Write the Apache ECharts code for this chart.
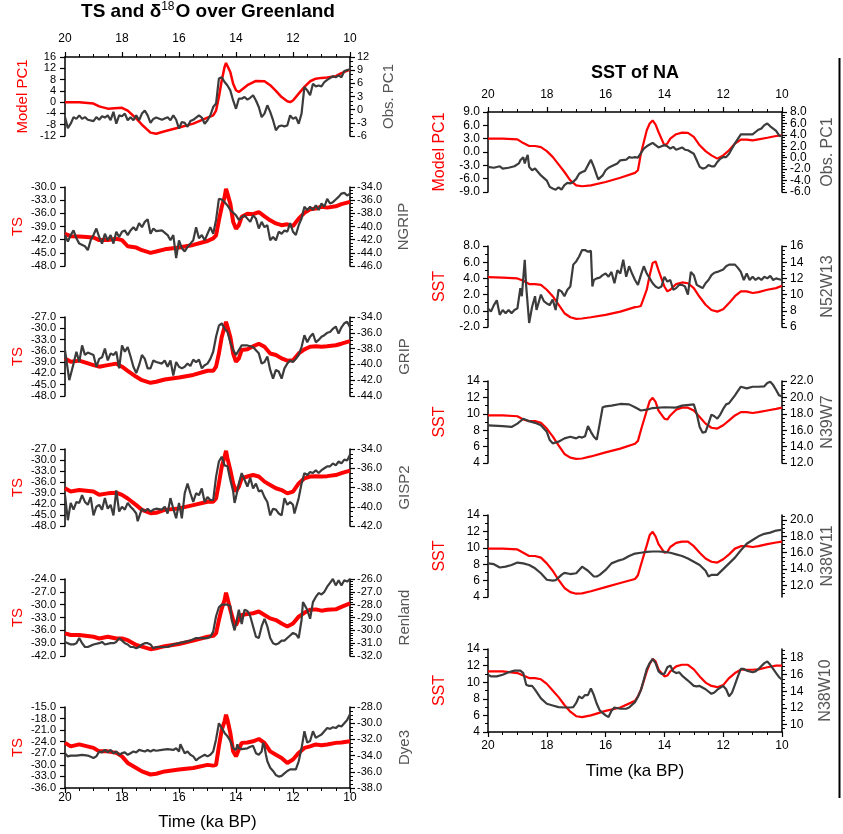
<!DOCTYPE html>
<html><head><meta charset="utf-8">
<script src="https://cdn.jsdelivr.net/npm/echarts@6/dist/echarts.min.js"></script>
<style>html,body{margin:0;padding:0;background:#fff}#c{width:843px;height:834px}</style>
</head><body><div id="c"></div>
<script>
// ---------------- DATA (time in ka BP) ----------------
// Left column: TS (model, red) vs delta18O / PC1 (obs, dark grey)
const LT = [20,19.8,19.5,19,18.8,18.5,18.2,18,17.8,17.5,17.3,17,16.8,16.5,16,15.5,15,14.8,14.7,14.6,14.5,14.4,14.35,14.3,14.2,14.1,14,13.9,13.8,13.6,13.4,13.2,13,12.8,12.6,12.4,12.2,12,11.8,11.6,11.4,11.2,11,10.8,10.5,10.3,10];

const L1_modelT = [20,19.5,19,18.8,18.5,18,17.8,17.5,17.3,17,16.8,16.5,16,15.5,15,14.8,14.7,14.6,14.5,14.4,14.35,14.3,14.2,14.1,14,13.9,13.8,13.6,13.3,13,12.8,12.6,12.4,12.2,12.1,12,11.8,11.6,11.4,11.2,11,10.8,10.5,10.3,10];
const L1_model = [0,0,-0.5,-1.5,-2.3,-2,-3,-5.8,-8,-10.8,-11.2,-10.3,-9,-7.6,-5.5,-4.7,-3,1.8,7.7,12.5,13.9,13.4,10.7,6.5,4.2,3.6,4.4,6,7.5,7.4,6,4,1.8,0.3,0,0.6,3,5.4,7.4,8.3,8.6,8.7,9.2,10.3,11.5];
const L1_obsT = [20,19.9,19.8,19.7,19.6,19.5,19.4,19.3,19.2,19.0,18.9,18.8,18.7,18.6,18.5,18.4,18.3,18.2,18.1,18.0,17.9,17.8,17.7,17.6,17.5,17.4,17.3,17.2,17.1,17.0,16.9,16.8,16.6,16.4,16.3,16.2,16.1,16.0,15.9,15.8,15.7,15.6,15.5,15.3,15.2,15.1,15.0,14.9,14.8,14.7,14.6,14.5,14.4,14.3,14.2,14.1,14.0,13.9,13.8,13.7,13.6,13.5,13.4,13.3,13.2,13.1,13.0,12.9,12.8,12.7,12.6,12.5,12.4,12.3,12.2,12.1,12.0,11.9,11.8,11.7,11.6,11.5,11.4,11.3,11.2,11.1,11.0,10.9,10.8,10.6,10.5,10.4,10.3,10.2,10.1,10.0];
const L1_obs = [-1.7,-4.2,-3.2,-1.7,-2.1,-1.3,-2.1,-1.7,-2.3,-2.6,-1.7,-2.3,-1.5,-1.8,-1.3,-2.4,-0.5,-3.2,-1.3,-1.5,-0.9,-2.4,-1.7,-2.4,-1.3,-2.4,-0.9,-0.2,-1.3,-3.0,-2.1,-1.8,-2.3,-1.7,-2.4,-1.3,-2.3,-4.3,-2.8,-3.0,-3.9,-2.6,-2.3,-1.3,-1.8,-3.2,-2.4,-1.3,0.6,1.4,7.1,7.4,6.3,5.5,4.4,2.1,0.2,2.5,2.5,2.9,2.3,2.7,3.3,2.1,0.6,-1.7,-0.9,1.0,-0.5,-2.4,-4.7,-3.8,-3.6,-3.8,-3.6,-1.3,-2.1,-1.7,-3.2,-0.9,5.2,4.4,3.3,5.9,5.3,5.5,5.3,6.3,6.8,7.6,7.4,7.8,7.4,8.8,9.0,9.2];

const L2_model = [-40.7,-41.2,-41.3,-41.5,-42.1,-42.1,-41.8,-42.1,-43.5,-43.8,-44.4,-45.0,-44.7,-44.2,-43.8,-43.2,-42.3,-41.7,-41.0,-37.6,-34.5,-32.3,-30.4,-31.5,-33.8,-37.9,-39.5,-38.7,-36.8,-36.1,-36.2,-35.7,-36.7,-37.6,-38.3,-38.7,-38.5,-38.9,-37.2,-35.9,-35.1,-34.9,-34.5,-34.7,-34.4,-33.9,-33.4];
const L2_obsT = [20,19.9,19.8,19.7,19.6,19.5,19.3,19.2,19.1,19.0,18.9,18.8,18.7,18.6,18.5,18.4,18.3,18.2,18.1,18.0,17.9,17.8,17.7,17.6,17.5,17.4,17.3,17.2,17.1,17.0,16.9,16.8,16.6,16.4,16.3,16.2,16.1,16.0,15.9,15.8,15.7,15.6,15.5,15.4,15.3,15.2,15.1,15.0,14.9,14.8,14.7,14.6,14.5,14.4,14.3,14.2,14.0,13.9,13.8,13.7,13.6,13.5,13.4,13.3,13.2,13.1,13.0,12.9,12.8,12.7,12.6,12.5,12.4,12.3,12.2,12.1,12.0,11.9,11.8,11.7,11.6,11.5,11.4,11.3,11.2,11.1,11.0,10.9,10.8,10.7,10.6,10.5,10.4,10.3,10.2,10.1,10.0];
const L2_obs = [-41.3,-42.3,-41.3,-40.6,-41.8,-42.6,-43.0,-43.6,-42.1,-41.3,-40.3,-41.6,-42.6,-41.1,-42.1,-41.3,-42.6,-40.8,-41.6,-40.8,-40.6,-41.3,-40.6,-40.1,-40.6,-39.5,-40.1,-39.3,-38.9,-41.1,-40.3,-40.7,-40.6,-41.3,-42.1,-41.3,-44.8,-42.1,-43.3,-43.8,-43.1,-42.6,-42.1,-40.1,-41.8,-41.3,-42.1,-41.1,-40.1,-41.1,-39.0,-35.8,-35.9,-36.3,-36.8,-37.5,-38.3,-39.0,-38.6,-38.3,-38.8,-39.3,-38.3,-38.8,-40.3,-39.3,-40.1,-39.8,-42.1,-41.6,-42.1,-40.8,-41.1,-40.6,-40.8,-39.5,-40.8,-41.3,-39.8,-38.8,-37.0,-37.5,-37.0,-37.5,-36.8,-37.5,-36.5,-37.0,-35.8,-36.5,-36.3,-35.9,-35.5,-35.0,-34.9,-35.3,-35.0];

const L3_model = [-38.0,-38.9,-38.6,-39.8,-40.2,-39.8,-39.4,-40.2,-41.3,-42.9,-43.8,-44.5,-44.2,-43.6,-43.1,-42.4,-41.3,-41.3,-40.2,-36.7,-32.3,-29.6,-28.3,-29.6,-32.3,-36.7,-38.9,-38.0,-35.8,-35.6,-34.8,-34.1,-34.9,-36.7,-37.1,-38.0,-38.6,-38.5,-36.7,-35.6,-34.9,-34.8,-34.9,-34.8,-34.5,-34.1,-33.4];
const L3_obsT = [20,19.85,19.7,19.6,19.5,19.4,19.3,19.2,19.0,18.9,18.8,18.7,18.6,18.5,18.4,18.3,18.2,18.1,18.0,17.9,17.8,17.7,17.6,17.5,17.4,17.3,17.2,17.1,17.0,16.9,16.8,16.6,16.5,16.4,16.3,16.2,16.1,16.0,15.9,15.8,15.7,15.6,15.5,15.4,15.3,15.2,15.1,15.0,14.9,14.8,14.7,14.6,14.5,14.4,14.3,14.2,14.1,14.0,13.9,13.8,13.6,13.4,13.3,13.2,13.1,13.0,12.9,12.8,12.7,12.6,12.5,12.4,12.3,12.2,12.1,12.0,11.9,11.8,11.7,11.6,11.5,11.4,11.3,11.2,11.1,11.0,10.9,10.8,10.7,10.6,10.5,10.4,10.3,10.2,10.1,10.0];
const L3_obs = [-38.2,-42.0,-39.9,-38.4,-39.7,-37.6,-38.8,-38.5,-38.8,-40.3,-39.3,-39.1,-38.0,-39.5,-38.6,-38.8,-38.4,-40.5,-37.6,-38.4,-37.8,-39.0,-40.3,-41.1,-40.1,-38.8,-39.3,-40.5,-40.5,-39.5,-39.7,-39.9,-39.5,-40.3,-39.5,-41.4,-39.7,-40.3,-40.5,-40.3,-39.9,-40.2,-39.4,-39.7,-39.4,-40.5,-40.1,-39.9,-39.3,-38.4,-36.5,-35.1,-34.8,-35.5,-35.9,-37.2,-38.2,-38.8,-38.2,-37.6,-37.6,-37.8,-38.2,-38.6,-39.9,-39.7,-39.0,-40.7,-41.8,-40.7,-40.9,-41.8,-40.5,-39.9,-39.5,-39.7,-39.3,-38.8,-37.8,-36.3,-37.2,-36.5,-36.1,-37.2,-36.9,-36.5,-36.3,-36.0,-35.9,-35.5,-35.2,-36.1,-35.3,-34.8,-34.6,-35.3];

const L4_model = [-37.7,-38.6,-38.2,-38.6,-39.5,-39.1,-38.9,-39.5,-40.5,-42.3,-43.6,-44.5,-44.4,-43.6,-43.2,-42.3,-41.4,-41.4,-40.5,-36.4,-31.8,-29.1,-27.5,-29.5,-32.7,-36.4,-38.6,-37.3,-35.0,-34.5,-34.1,-34.5,-35.9,-36.8,-37.7,-38.2,-39.1,-38.6,-36.4,-35.0,-34.5,-34.4,-34.5,-34.4,-34.1,-33.6,-32.9];
const L4_obsT = [20,19.9,19.8,19.7,19.6,19.5,19.4,19.3,19.2,19.1,19.0,18.9,18.8,18.7,18.6,18.5,18.4,18.3,18.2,18.1,18.0,17.9,17.8,17.7,17.6,17.5,17.45,17.3,17.2,17.1,17.0,16.9,16.8,16.6,16.5,16.4,16.3,16.2,16.1,16.0,15.9,15.8,15.7,15.6,15.5,15.4,15.3,15.2,15.1,15.0,14.9,14.8,14.7,14.6,14.5,14.4,14.3,14.2,14.1,14.05,14.0,13.9,13.8,13.7,13.6,13.5,13.4,13.3,13.2,13.1,13.0,12.9,12.8,12.7,12.6,12.5,12.4,12.3,12.2,12.1,12.0,11.95,11.8,11.7,11.6,11.5,11.4,11.3,11.2,11.1,11.0,10.9,10.8,10.7,10.6,10.5,10.4,10.3,10.2,10.1,10.0];
const L4_obs = [-38.8,-41.4,-39.6,-40.3,-39.5,-39.6,-38.8,-39.5,-39.8,-39.0,-40.9,-40.0,-39.8,-40.3,-39.1,-40.2,-39.8,-40.9,-38.3,-40.5,-40.0,-40.3,-39.6,-40.0,-40.3,-40.7,-41.5,-40.2,-40.5,-40.2,-40.5,-40.3,-40.2,-40.3,-40.0,-40.7,-39.1,-40.2,-41.2,-39.6,-41.2,-38.6,-37.6,-38.6,-39.5,-38.6,-38.8,-38.1,-39.5,-39.0,-39.3,-39.3,-36.9,-35.3,-34.8,-35.7,-35.8,-37.2,-38.4,-39.6,-39.0,-37.6,-36.5,-37.2,-37.9,-37.0,-38.1,-37.6,-38.4,-38.3,-39.0,-39.5,-40.9,-40.2,-40.3,-40.7,-40.9,-39.1,-39.8,-39.5,-39.8,-40.7,-39.1,-37.6,-36.5,-36.7,-36.4,-36.5,-36.2,-36.5,-36.2,-36.0,-35.8,-35.8,-35.5,-35.7,-35.3,-35.5,-35.1,-35.2,-34.6];

const L5_model = [-36.7,-37.1,-37.1,-37.5,-37.9,-37.5,-37.9,-37.9,-38.3,-39.4,-39.8,-40.4,-40.2,-39.7,-39.2,-38.4,-37.5,-37.3,-36.7,-33.6,-30.9,-28.9,-27.2,-28.5,-31.2,-33.6,-34.8,-33.4,-32.4,-32.2,-32.0,-31.6,-32.4,-33.2,-33.6,-34.4,-35.1,-34.4,-32.8,-31.9,-31.2,-31.1,-31.4,-31.2,-31.1,-30.5,-29.7];
const L5_obsT = [20,19.8,19.7,19.6,19.5,19.4,19.3,19.2,19.0,18.8,18.7,18.6,18.4,18.3,18.2,18.1,18.0,17.9,17.8,17.7,17.6,17.5,17.4,17.3,17.2,17.1,17.0,16.9,16.8,16.6,16.4,16.2,16.0,15.8,15.6,15.4,15.2,15.0,14.9,14.8,14.7,14.6,14.5,14.4,14.3,14.2,14.15,14.05,14.0,13.9,13.85,13.8,13.7,13.6,13.5,13.4,13.3,13.2,13.1,13.0,12.9,12.8,12.7,12.6,12.5,12.4,12.3,12.2,12.1,12.0,11.9,11.8,11.7,11.65,11.5,11.4,11.3,11.2,11.1,11.0,10.9,10.8,10.7,10.6,10.5,10.4,10.3,10.2,10.1,10.0];
const L5_obs = [-30.9,-31.1,-31.1,-31.0,-30.6,-31.0,-31.3,-31.3,-31.1,-31.0,-30.9,-31.1,-31.0,-31.0,-30.9,-30.6,-30.8,-31.0,-31.1,-31.3,-31.3,-31.4,-31.3,-31.1,-31.0,-31.0,-31.1,-31.4,-31.3,-31.3,-31.3,-31.1,-31.0,-30.9,-30.8,-30.6,-30.6,-30.6,-30.5,-30.1,-28.9,-28.2,-28.0,-28.0,-28.0,-28.1,-29.2,-30.0,-29.5,-28.4,-28.5,-29.5,-28.4,-28.5,-28.9,-29.7,-30.5,-30.6,-29.7,-29.1,-29.7,-30.6,-31.0,-31.1,-31.0,-30.8,-30.8,-30.6,-30.4,-30.2,-30.3,-30.6,-29.2,-27.8,-28.4,-29.1,-27.8,-27.4,-27.1,-27.2,-27.0,-26.6,-26.3,-26.0,-26.5,-26.1,-26.5,-26.1,-26.2,-26.0];

const L6_model = [-24.3,-25.2,-24.7,-25.6,-26.5,-26.5,-26.9,-27.8,-29.5,-30.8,-31.7,-32.5,-32.3,-31.7,-31.2,-30.8,-30.0,-30.2,-30.0,-25.2,-20.9,-18.7,-17.0,-18.3,-21.7,-26.5,-27.8,-26.0,-24.3,-24.2,-23.9,-23.3,-24.3,-26.5,-27.4,-28.2,-29.5,-28.6,-26.9,-25.6,-25.2,-24.7,-24.9,-24.7,-24.3,-24.2,-23.9];
const L6_obsT = [20,19.9,19.8,19.6,19.4,19.2,19.0,18.9,18.8,18.7,18.6,18.5,18.4,18.3,18.2,18.1,18.0,17.9,17.8,17.7,17.6,17.5,17.4,17.2,17.1,17.0,16.9,16.8,16.6,16.4,16.2,16.1,16.0,15.95,15.8,15.7,15.6,15.5,15.4,15.3,15.2,15.1,15.0,14.9,14.8,14.7,14.6,14.5,14.4,14.3,14.2,14.1,14.0,13.95,13.9,13.8,13.6,13.5,13.4,13.3,13.2,13.1,13.05,13.0,12.95,12.9,12.8,12.7,12.6,12.5,12.4,12.3,12.2,12.1,12.0,11.9,11.8,11.7,11.6,11.5,11.4,11.3,11.2,11.1,11.0,10.9,10.8,10.7,10.6,10.5,10.4,10.3,10.2,10.1,10.0];
const L6_obs = [-33.7,-34.1,-34.0,-34.0,-33.9,-34.0,-34.3,-34.1,-33.5,-33.6,-33.3,-33.6,-33.3,-33.7,-33.5,-33.9,-33.7,-33.6,-33.9,-33.7,-33.5,-33.6,-33.3,-33.5,-33.3,-33.5,-33.3,-33.4,-33.3,-33.2,-33.3,-33.1,-33.5,-32.6,-33.7,-33.5,-33.9,-34.1,-34.6,-34.3,-34.1,-33.9,-34.1,-33.9,-33.5,-32.0,-30.0,-30.6,-31.2,-31.6,-32.2,-33.1,-33.3,-32.6,-33.1,-33.2,-33.1,-32.9,-32.8,-33.7,-33.9,-33.5,-32.4,-32.9,-33.9,-34.7,-35.5,-35.9,-36.4,-36.6,-36.5,-36.2,-35.9,-35.7,-35.7,-35.7,-34.7,-33.1,-31.0,-32.4,-32.2,-31.0,-31.8,-31.6,-31.4,-31.0,-30.6,-30.7,-30.5,-30.6,-30.3,-30.4,-30.0,-29.6,-28.9];

// Right column: SST of NA
const RT = [20,19.5,19,18.8,18.6,18.4,18.2,18,17.8,17.6,17.4,17.2,17,16.8,16.5,16,15.5,15,14.9,14.8,14.6,14.5,14.4,14.3,14.2,14,13.9,13.8,13.6,13.4,13.2,13,12.8,12.6,12.4,12.2,12,11.8,11.6,11.4,11.2,11,10.8,10.5,10.2,10];
const R1_model = [3.0,3.0,2.85,2.0,1.35,1.35,1.1,0.2,-1.1,-2.8,-4.5,-6.4,-7.5,-7.7,-7.5,-6.75,-5.8,-4.7,-4.1,-0.4,4.9,6.4,7.1,6.15,4.5,1.5,1.9,3.0,4.0,4.35,4.3,3.4,1.5,0.2,-0.75,-1.5,-0.75,0.4,1.9,2.8,2.8,2.6,2.85,3.2,3.6,3.75];
const R2_model = [4.15,4.1,4.0,3.7,3.3,3.3,3.2,2.6,1.8,0.75,-0.3,-0.8,-1.0,-0.95,-0.8,-0.5,-0.1,0.45,0.5,0.6,2.6,4.4,5.9,6.1,5.0,3.0,2.4,2.6,3.3,3.5,3.4,2.8,1.7,0.75,0.1,-0.1,0.2,0.95,1.8,2.4,2.4,2.2,2.3,2.6,2.8,3.1];
const R3_model = [9.8,9.8,9.7,9.3,9.1,9.1,8.9,8.2,7.25,6.15,5.1,4.65,4.5,4.55,4.8,5.3,5.75,6.35,6.7,8.0,10.4,11.55,11.95,11.45,10.4,9.4,9.3,9.8,10.5,10.75,10.75,10.4,9.6,8.8,8.3,8.2,8.6,9.2,9.8,10.2,10.2,10.1,10.2,10.4,10.6,10.75];
const R4_model = [9.9,9.9,9.8,9.4,9.0,9.0,8.8,8.1,7.2,6.1,5.1,4.6,4.4,4.45,4.7,5.2,5.7,6.2,6.65,7.9,10.3,11.55,11.95,11.4,10.45,9.4,9.5,10.1,10.6,10.75,10.75,10.2,9.4,8.7,8.3,8.2,8.6,9.2,9.9,10.2,10.2,10.1,10.2,10.45,10.65,10.75];
const R5_model = [11.3,11.3,11.1,10.8,10.5,10.5,10.35,9.8,9.0,8.2,7.25,6.45,5.9,5.8,6.0,6.55,6.95,7.75,8.3,9.05,11.3,12.2,12.8,12.5,11.55,10.7,10.8,11.3,11.9,12.1,12.1,11.55,10.7,9.95,9.55,9.4,9.65,10.5,11.1,11.5,11.5,11.5,11.55,11.8,12.0,12.0];

const R1_obsT = [20,19.8,19.6,19.5,19.3,19.1,18.95,18.9,18.8,18.75,18.7,18.65,18.6,18.5,18.4,18.3,18.2,18.0,17.9,17.8,17.7,17.6,17.5,17.4,17.3,17.2,17.1,17.0,16.9,16.8,16.7,16.6,16.5,16.45,16.4,16.3,16.25,16.1,16.0,15.9,15.8,15.6,15.5,15.3,15.2,15.1,15.0,14.9,14.8,14.7,14.6,14.5,14.4,14.3,14.2,14.1,14.0,13.9,13.8,13.7,13.6,13.4,13.3,13.2,13.0,12.9,12.8,12.7,12.6,12.5,12.4,12.3,12.2,12.1,12.0,11.9,11.8,11.7,11.6,11.4,11.2,11.0,10.9,10.8,10.7,10.6,10.5,10.4,10.3,10.2,10.1,10.0];
const R1_obs = [-1.6,-1.75,-1.5,-1.9,-1.75,-1.5,-1.0,-0.45,0.1,-1.0,-0.15,0.5,-1.6,-2.2,-1.9,-2.5,-3.1,-4.0,-5.1,-5.4,-5.6,-5.2,-5.6,-4.8,-4.4,-4.5,-4.2,-3.7,-2.8,-2.5,-2.3,-1.3,-0.35,-0.6,-1.6,-3.1,-3.8,-3.1,-2.2,-1.75,-1.5,-1.0,-0.45,-0.35,0.1,0.0,0.1,0.0,0.8,1.6,2.0,2.3,2.6,2.2,1.8,2.0,2.2,2.0,1.6,1.9,1.4,1.8,1.4,1.3,0.7,-0.45,-1.6,-1.9,-1.75,-1.3,-1.5,-1.5,-0.75,-0.2,0.1,0.1,0.7,1.6,2.5,4.1,4.1,4.1,4.5,4.9,5.1,5.7,6.0,5.5,5.1,4.7,3.9,3.7];
const R2_obsT = [20,19.9,19.8,19.7,19.6,19.5,19.4,19.3,19.2,19.1,19.0,18.9,18.85,18.75,18.7,18.6,18.5,18.4,18.35,18.2,18.1,18.0,17.9,17.8,17.7,17.6,17.5,17.4,17.3,17.2,17.1,17.0,16.9,16.8,16.7,16.6,16.5,16.45,16.4,16.3,16.2,16.1,16.0,15.9,15.8,15.7,15.6,15.5,15.4,15.3,15.2,15.1,15.0,14.9,14.8,14.7,14.6,14.5,14.4,14.3,14.2,14.1,14.0,13.9,13.8,13.7,13.6,13.5,13.4,13.3,13.2,13.1,13.0,12.9,12.8,12.7,12.6,12.5,12.4,12.3,12.2,12.0,11.9,11.8,11.7,11.6,11.5,11.4,11.3,11.2,11.1,11.0,10.9,10.8,10.7,10.6,10.5,10.4,10.3,10.2,10.1,10.0];
const R2_obs = [8.3,7.9,8.7,9.3,7.5,8.1,7.7,8.1,7.7,8.1,8.3,10.8,9.8,14.3,11.0,6.5,8.5,9.8,8.1,10.0,9.2,8.9,8.7,9.4,8.1,10.6,10.4,9.8,10.6,11.0,13.7,14.1,14.7,15.5,15.5,15.3,15.4,11.0,11.8,12.0,12.1,12.4,12.6,12.2,12.8,11.4,13.0,12.6,14.3,12.2,13.5,12.6,11.8,11.2,12.4,13.5,12.6,12.0,11.4,11.0,10.8,11.0,12.2,11.6,11.8,10.6,10.8,11.2,11.2,11.0,10.0,12.8,12.4,11.2,11.0,10.8,11.4,11.8,12.4,12.7,12.8,13.1,13.5,13.7,13.7,13.7,13.3,12.8,11.8,12.6,11.8,12.2,11.8,12.1,11.8,12.2,12.0,12.3,11.8,12.0,11.9,11.8];
const R3_obsT = [20,19.5,19.2,19.0,18.8,18.6,18.4,18.2,18.0,17.9,17.8,17.6,17.4,17.2,17.0,16.9,16.8,16.7,16.6,16.5,16.4,16.3,16.2,16.1,16.0,15.8,15.5,15.2,15.0,14.8,14.6,14.4,14.0,13.6,13.4,13.0,12.9,12.8,12.7,12.6,12.5,12.4,12.3,12.2,12.1,12.0,11.9,11.8,11.6,11.4,11.2,11.0,10.8,10.6,10.5,10.4,10.3,10.2,10.1,10.0];
const R3_obs = [16.6,16.5,16.4,16.8,17.4,17.1,16.9,16.6,15.8,14.8,14.4,14.6,15.0,15.2,15.0,15.2,15.1,15.25,16.5,15.8,15.2,14.85,16.8,18.8,18.9,19.0,19.2,19.15,18.8,18.4,18.5,18.7,18.8,18.75,19.0,19.15,18.0,16.4,15.7,15.8,16.8,17.9,17.7,17.4,17.9,18.6,19.15,19.3,20.25,21.3,21.1,21.3,21.3,21.35,21.75,21.9,21.5,20.9,20.25,20.1];
const R4_obsT = [20,19.8,19.6,19.4,19.2,19.0,18.8,18.6,18.4,18.2,18.0,17.8,17.7,17.5,17.4,17.2,17.0,16.9,16.8,16.6,16.4,16.3,16.2,16.0,15.8,15.6,15.4,15.2,15.0,14.8,14.6,14.4,14.2,14.0,13.8,13.6,13.4,13.2,13.0,12.8,12.6,12.5,12.4,12.2,12.0,11.8,11.6,11.4,11.2,11.0,10.8,10.6,10.4,10.2,10.0];
const R4_obs = [14.7,14.6,14.2,14.3,14.5,14.8,14.7,14.5,14.1,13.5,12.7,12.6,12.65,13.3,13.55,13.4,13.5,13.9,14.3,13.8,13.1,13.1,13.3,13.9,14.7,15.0,15.2,15.6,15.9,16.0,16.1,16.15,16.15,16.1,16.0,15.8,15.6,15.3,14.9,14.5,13.8,13.1,13.3,13.3,14.0,14.7,15.4,16.3,17.1,17.55,18.0,18.3,18.45,18.7,18.8];
const R5_obsT = [20,19.9,19.7,19.5,19.3,19.1,18.9,18.8,18.7,18.6,18.5,18.4,18.2,18.0,17.8,17.6,17.4,17.2,17.1,17.0,16.9,16.8,16.7,16.6,16.5,16.4,16.3,16.2,16.1,16.0,15.9,15.8,15.7,15.5,15.3,15.2,15.0,14.9,14.8,14.7,14.6,14.5,14.4,14.3,14.2,14.1,14.0,13.9,13.8,13.7,13.6,13.5,13.4,13.2,13.0,12.9,12.8,12.6,12.4,12.3,12.2,12.0,11.9,11.8,11.7,11.6,11.5,11.4,11.3,11.2,11.0,10.9,10.8,10.6,10.5,10.4,10.3,10.2,10.1,10.0];
const R5_obs = [16.0,15.8,15.8,16.0,16.3,16.5,16.5,16.2,14.8,14.65,14.65,14.2,13.15,12.5,12.3,12.1,12.05,12.05,12.1,12.6,13.4,13.15,13.55,13.55,14.35,13.55,12.5,11.7,11.4,11.1,10.9,11.65,12.05,11.9,11.9,12.05,12.7,13.35,14.15,15.4,16.7,17.4,17.9,17.4,16.4,16.1,16.1,16.9,17.1,16.4,16.2,16.3,15.9,15.3,14.65,14.6,14.65,14.25,13.7,13.85,14.2,14.65,14.25,13.4,13.85,14.8,15.8,16.7,16.7,16.5,16.3,16.4,16.7,17.4,17.6,17.2,16.7,16.2,15.7,15.4];

// Tick labels
const L1_lt = [-12,-8,-4,0,4,8,12,16],  L1_rt = [-6,-3,0,3,6,9,12];
const L2_lt = [-48,-45,-42,-39,-36,-33,-30], L2_rt = [-46,-44,-42,-40,-38,-36,-34];
const L3_lt = [-48,-45,-42,-39,-36,-33,-30,-27], L3_rt = [-44,-42,-40,-38,-36,-34];
const L4_lt = [-48,-45,-42,-39,-36,-33,-30,-27], L4_rt = [-42,-40,-38,-36,-34];
const L5_lt = [-42,-39,-36,-33,-30,-27,-24], L5_rt = [-32,-31,-30,-29,-28,-27,-26];
const L6_lt = [-36,-33,-30,-27,-24,-21,-18,-15], L6_rt = [-38,-36,-34,-32,-30,-28];
const R1_lt = [-9,-6,-3,0,3,6,9], R1_rt = [-6,-4,-2,0,2,4,6,8];
const R2_lt = [-2,0,2,4,6,8], R2_rt = [6,8,10,12,14,16];
const R3_lt = [4,6,8,10,12,14], R3_rt = [12,14,16,18,20,22];
const R4_lt = [4,6,8,10,12,14], R4_rt = [12,14,16,18,20];
const R5_lt = [4,6,8,10,12,14], R5_rt = [10,12,14,16,18];

// ---------------- CHART ----------------
const FONT = 'Liberation Sans, Arial, Helvetica, sans-serif';
const RED = '#ff0000', GREY = '#3c3c3c', NAMEGREY = '#555555';
const zip = (t, v) => t.map((x, i) => [x, v[i]]);

const panels = [
  {g:[65,57,285,79], col:'L', xPos:'top', xMargin:12, mw:2.5,
   l:{min:-12,max:16,ticks:L1_lt,dec:0,name:'Model PC1',gap:35},
   r:{min:-6,max:12,ticks:L1_rt,dec:0,name:'Obs. PC1',gap:31,minor:1},
   m:[L1_modelT,L1_model], o:[L1_obsT,L1_obs]},
  {g:[65,187,285,79], col:'L',
   l:{min:-48,max:-30,ticks:L2_lt,dec:1,name:'TS',gap:40},
   r:{min:-46,max:-34,ticks:L2_rt,dec:1,name:'NGRIP',gap:46,minor:0.5},
   m:[LT,L2_model], o:[L2_obsT,L2_obs]},
  {g:[65,317,285,79], col:'L',
   l:{min:-48,max:-27,ticks:L3_lt,dec:1,name:'TS',gap:40},
   r:{min:-44,max:-34,ticks:L3_rt,dec:1,name:'GRIP',gap:47,minor:0.5},
   m:[LT,L3_model], o:[L3_obsT,L3_obs]},
  {g:[65,449,285,77], col:'L',
   l:{min:-48,max:-27,ticks:L4_lt,dec:1,name:'TS',gap:40},
   r:{min:-42,max:-34,ticks:L4_rt,dec:1,name:'GISP2',gap:47,minor:0.5},
   m:[LT,L4_model], o:[L4_obsT,L4_obs]},
  {g:[65,579,285,77], col:'L',
   l:{min:-42,max:-24,ticks:L5_lt,dec:1,name:'TS',gap:40},
   r:{min:-32,max:-26,ticks:L5_rt,dec:1,name:'Renland',gap:47,minor:0.2},
   m:[LT,L5_model], o:[L5_obsT,L5_obs]},
  {g:[65,707,285,81], col:'L', xPos:'bottom', xMargin:4, xName:'Time (ka BP)', xNameGap:26,
   l:{min:-36,max:-15,ticks:L6_lt,dec:1,name:'TS',gap:40},
   r:{min:-38,max:-28,ticks:L6_rt,dec:1,name:'Dye3',gap:47,minor:0.5},
   m:[LT,L6_model], o:[L6_obsT,L6_obs]},
  {g:[488,112,294,80], col:'R', xPos:'top', xMargin:11,
   l:{min:-9,max:9,ticks:R1_lt,dec:1,name:'Model PC1',gap:40},
   r:{min:-6,max:8,ticks:R1_rt,dec:1,name:'Obs. PC1',gap:38,minor:0.5},
   m:[RT,R1_model], o:[R1_obsT,R1_obs]},
  {g:[488,246,294,81], col:'R',
   l:{min:-2,max:8,ticks:R2_lt,dec:1,name:'SST',gap:40,minor:1},
   r:{min:6,max:16,ticks:R2_rt,dec:0,name:'N52W13',gap:38,minor:0.5},
   m:[RT,R2_model], o:[R2_obsT,R2_obs]},
  {g:[488,381,294,82], col:'R',
   l:{min:4,max:14,ticks:R3_lt,dec:0,name:'SST',gap:40,minor:1},
   r:{min:12,max:22,ticks:R3_rt,dec:1,name:'N39W7',gap:38,minor:0.5},
   m:[RT,R3_model], o:[R3_obsT,R3_obs]},
  {g:[488,515,294,82], col:'R',
   l:{min:4,max:14,ticks:R4_lt,dec:0,name:'SST',gap:40,minor:1},
   r:{min:10.6,max:20.6,ticks:R4_rt,dec:1,name:'N38W11',gap:38,minor:0.5},
   m:[RT,R4_model], o:[R4_obsT,R4_obs]},
  {g:[488,649,294,83], col:'R', xPos:'bottom', xMargin:8, xName:'Time (ka BP)', xNameGap:31,
   l:{min:4,max:14,ticks:R5_lt,dec:0,name:'SST',gap:40,minor:1},
   r:{min:9.1,max:19.1,ticks:R5_rt,dec:0,name:'N38W10',gap:36,minor:0.5},
   m:[RT,R5_model], o:[R5_obsT,R5_obs]}
];

function minorVals(a) {
  const out = [];
  const start = Math.ceil(a.min / a.minor - 1e-9);
  const end = Math.floor(a.max / a.minor + 1e-9);
  for (let k = start; k <= end; k++) {
    const v = +(k * a.minor).toFixed(4);
    if (!a.ticks.some(t => Math.abs(t - v) < 1e-6)) out.push(v);
  }
  return out;
}

function labelStyle(pos, a, col, vals) {
  return {show:true, customValues:vals, formatter:(v)=>Number(v).toFixed(a.dec),
    showMinLabel:true, showMaxLabel:true, hideOverlap:false,
    margin: pos==='left' ? (col==='L'?9:8) : (col==='L'?7:8),
    fontSize: col==='L'?11:12, color:'#000', fontFamily:FONT};
}
function mkY(gi, pos, a, col, nameColor) {
  return {
    type:'value', gridIndex:gi, position:pos, min:a.min, max:a.max,
    axisLine:{show:true, onZero:false, lineStyle:{color:'#000', width:1.5}},
    axisTick:{show:true, inside:false, length:5, customValues:a.ticks, lineStyle:{color:'#000', width:1.2}},
    axisLabel:labelStyle(pos, a, col, a.ticks.filter((_, k) => k % 2 === 0)),
    splitLine:{show:false},
    name:a.name, nameLocation:'middle', nameRotate:90, nameGap:a.gap,
    nameTextStyle:{color:nameColor, fontSize: col==='L'?15:16, fontFamily:FONT}
  };
}
function mkYOdd(gi, pos, a, col) {
  return {
    type:'value', gridIndex:gi, position:pos, min:a.min, max:a.max,
    axisLine:{show:false}, axisTick:{show:false}, splitLine:{show:false},
    axisLabel:labelStyle(pos, a, col, a.ticks.filter((_, k) => k % 2 === 1))
  };
}
function mkMinor(gi, pos, a) {
  return {
    type:'value', gridIndex:gi, position:pos, min:a.min, max:a.max,
    axisLine:{show:false}, axisLabel:{show:false}, splitLine:{show:false},
    axisTick:{show:true, inside:false, length:3, customValues:minorVals(a), lineStyle:{color:'#000', width:1}}
  };
}

const grids = [], xAxes = [], yAxes = [], series = [];
panels.forEach((p, i) => {
  grids.push({left:p.g[0], top:p.g[1], width:p.g[2], height:p.g[3], containLabel:false});
  xAxes.push({
    type:'value', gridIndex:i, min:10, max:20, interval:2, inverse:true,
    show: !!p.xPos, position: p.xPos || 'bottom',
    axisLine:{show:true, onZero:false, lineStyle:{color:'#000', width:1.5}},
    axisTick:{show:true, inside:false, length:5, lineStyle:{color:'#000', width:1.2}},
    minorTick:{show:true, splitNumber:4, length:3, lineStyle:{color:'#000', width:1}},
    axisLabel:{show:true, margin:p.xMargin || 8, fontSize:12, color:'#000', fontFamily:FONT,
      showMinLabel:true, showMaxLabel:true},
    splitLine:{show:false}, minorSplitLine:{show:false},
    name:p.xName || '', nameLocation:'middle', nameGap:p.xNameGap || 20,
    nameTextStyle:{fontSize:17, color:'#000', fontFamily:FONT}
  });
  const li = yAxes.length; yAxes.push(mkY(i, 'left', p.l, p.col, RED));
  const ri = yAxes.length; yAxes.push(mkY(i, 'right', p.r, p.col, NAMEGREY));
  yAxes.push(mkYOdd(i, 'left', p.l, p.col));
  yAxes.push(mkYOdd(i, 'right', p.r, p.col));
  if (p.r.minor) yAxes.push(mkMinor(i, 'right', p.r));
  if (p.l.minor) yAxes.push(mkMinor(i, 'left', p.l));
  series.push({type:'line', xAxisIndex:i, yAxisIndex:li, data:zip(p.m[0], p.m[1]),
    showSymbol:false, symbol:'none', silent:true, clip:true,
    lineStyle:{color:RED, width: p.mw || (p.col==='L'?4:2.2)}, z:2});
  series.push({type:'line', xAxisIndex:i, yAxisIndex:ri, data:zip(p.o[0], p.o[1]),
    showSymbol:false, symbol:'none', silent:true, clip:true,
    lineStyle:{color:GREY, width:2.2}, z:3});
});

const chart = echarts.init(document.getElementById('c'), null, {renderer:'canvas', width:843, height:834});
chart.setOption({
  animation:false,
  backgroundColor:'#ffffff',
  grid:grids, xAxis:xAxes, yAxis:yAxes, series:series,
  graphic:[
    {type:'text', x:208, y:12, style:{
      text:'{a|TS and }{d|δ}{s|18}{a|O over Greenland}',
      align:'center', verticalAlign:'middle',
      rich:{
        a:{fontSize:19, fontWeight:'bold', fontFamily:FONT, fill:'#000', lineHeight:22},
        d:{fontSize:19, fontWeight:'bold', fontFamily:FONT, fill:'#000', lineHeight:22},
        s:{fontSize:12, fontFamily:FONT, fill:'#000', verticalAlign:'top', lineHeight:22, padding:[0,1,10,0]}
      }}},
    {type:'text', x:635, y:73, style:{text:'SST of NA', align:'center', verticalAlign:'middle',
      font:'bold 18px ' + FONT, fill:'#000'}},
    {type:'line', shape:{x1:839.5, y1:58, x2:839.5, y2:798}, style:{stroke:'#000', lineWidth:2}}
  ]
});
</script>
</body></html>
